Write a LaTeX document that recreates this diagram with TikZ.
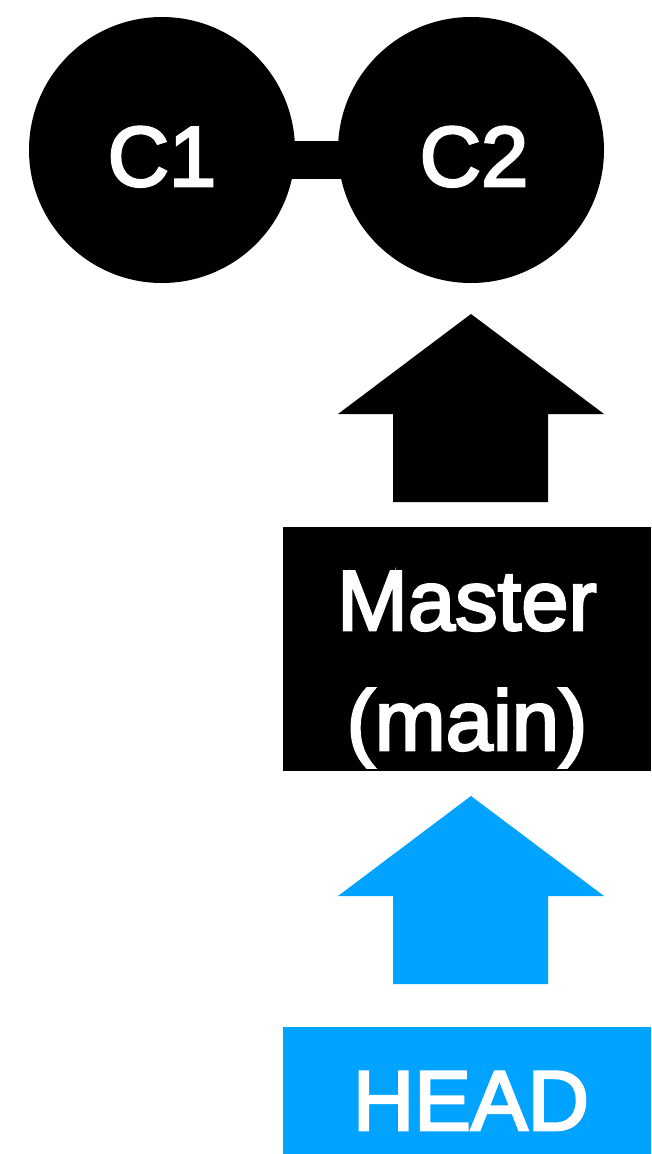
\documentclass[tikz,border=0pt]{standalone}
\usepackage{fontspec}
\setmainfont{Liberation Sans}[FakeBold=3]
\definecolor{headblue}{RGB}{0,163,255}
\begin{document}
\begin{tikzpicture}[x=1pt,y=-1pt,
  commit/.style={circle,fill=black,minimum size=266pt,inner sep=0pt},
  lbl/.style={text=white,inner sep=0pt,anchor=base,font=\fontsize{85}{100}\selectfont},
  refbox/.style={rectangle,inner sep=0pt,minimum width=368pt},
  blockarrow/.pic={\path[pic actions] (0,0) -- (133,100) -- (77,100) -- (77,188) -- (-78,188) -- (-78,100) -- (-133,100) -- cycle;}
]
\useasboundingbox (0,0) rectangle (651,1154);
% commits
\node[commit] (c1) at (162,150) {};
\node[commit] (c2) at (471,150) {};
\draw[line width=38pt] ([yshift=-10pt]c1.center) -- ([yshift=-10pt]c2.center);
\node[lbl] (t1) at (162,186) {C1};
\node[lbl] (t2) at (474,186) {C2};
% arrow master -> C2
\pic[fill=black] at (471,314) {blockarrow};
% master box
\node[refbox,fill=black,minimum height=244pt] (master) at (467,649) {};
\node[lbl] (m1) at (467,630) {Master};
\node[lbl] (m2) at (467,750) {(main)};
% arrow head -> master
\pic[fill=headblue] at (471,796) {blockarrow};
% head box
\node[refbox,fill=headblue,minimum height=127pt] (head) at (467,1090.5) {};
\node[lbl] (h) at (471,1130) {HEAD};
\end{tikzpicture}
\end{document}
